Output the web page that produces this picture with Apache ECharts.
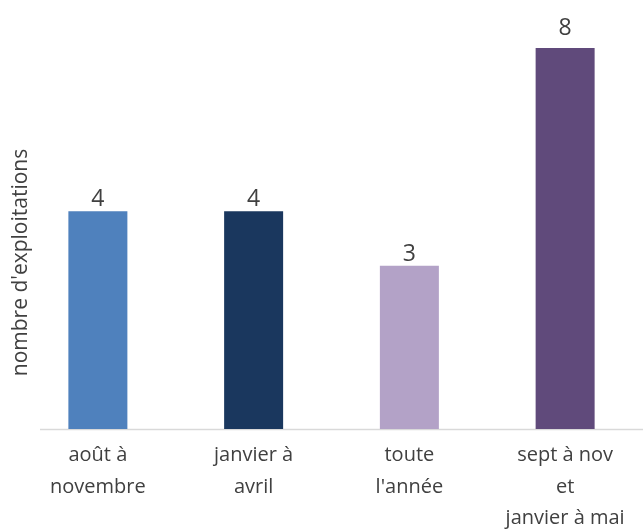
<!DOCTYPE html>
<html><head><meta charset="utf-8">
<script src="https://cdn.jsdelivr.net/npm/echarts@6/dist/echarts.min.js"></script>
<style>html,body{margin:0;padding:0;background:#fff}#c{width:643px;height:530px}</style>
</head><body><div id="c"></div>
<script>
var categories = ["août à\nnovembre", "janvier à\navril", "toute\nl'année", "sept à nov\net\njanvier à mai"];
var values = [4, 4, 3, 8];
var colors = ["#4F81BD", "#1A375E", "#B3A2C7", "#604A7B"];
var yName = "nombre d'exploitations";
var yMax = 7;

var chart = echarts.init(document.getElementById('c'), null, {renderer: 'canvas'});
var font = "'Open Sans', 'Noto Sans', sans-serif";
chart.setOption({
  animation: false,
  grid: {left: 20, right: 0, top: 48, bottom: 101, containLabel: false, outerBoundsMode: 'none'},
  graphic: [{
    type: 'line', z: 0,
    shape: {x1: 40, y1: 429.5, x2: 643, y2: 429.5},
    style: {stroke: '#D9D9D9', lineWidth: 1.5}
  }],
  xAxis: {
    type: 'category', data: categories,
    axisLine: {show: false}, axisTick: {show: false},
    axisLabel: {color: '#404040', fontSize: 20, fontFamily: font, lineHeight: 31.5, margin: 11, interval: 0}
  },
  yAxis: {
    type: 'value', min: 0, max: yMax,
    axisLine: {show: false}, axisTick: {show: false}, axisLabel: {show: false}, splitLine: {show: false},
    name: yName, nameLocation: 'middle', nameGap: -12, nameRotate: 90,
    nameTextStyle: {color: '#404040', fontSize: 21, fontFamily: font, padding: [0, 48, 0, 0]}
  },
  series: [{
    type: 'bar', barWidth: 59, clip: true,
    data: values.map(function (v, i) {
      var d = {value: v, itemStyle: {color: colors[i]}};
      if (v > yMax) d.label = {distance: 8};
      return d;
    }),
    label: {show: true, position: 'top', distance: 0, color: '#404040', fontSize: 23, fontFamily: font}
  }]
});
</script></body></html>
